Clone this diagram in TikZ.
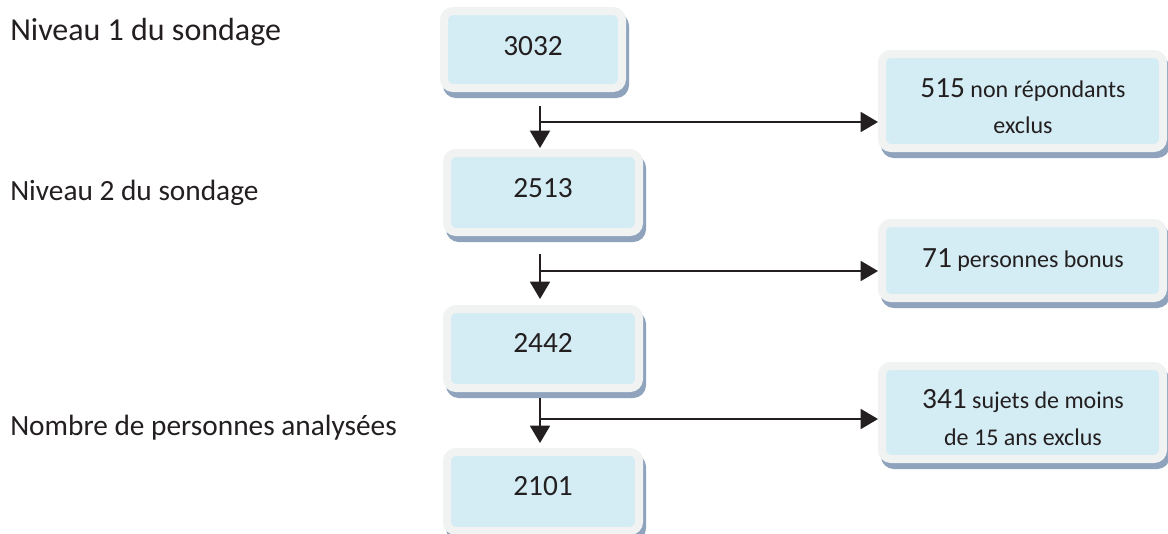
\documentclass[tikz,border=0pt]{standalone}
\usepackage{fontspec}
\setmainfont{Carlito}
\usetikzlibrary{arrows.meta,shadows,calc}
\definecolor{framegray}{HTML}{F1F3F3}
\definecolor{innerblue}{HTML}{D4ECF3}
\definecolor{shadowcol}{HTML}{8FA3BC}
\definecolor{ink}{HTML}{231F20}
\tikzset{
  box/.style={draw=framegray, fill=innerblue, line width=6pt, rounded corners=6.75pt,
    inner sep=0pt, outer sep=3pt,
    general shadow={fill=shadowcol, draw=shadowcol, line width=6pt, shadow xshift=2.25pt, shadow yshift=-4.5pt}},
  lbox/.style={box, minimum width=144pt, minimum height=59.25pt},
  rbox/.style={box, minimum width=210.75pt},
  txt/.style={inner sep=0pt, anchor=base, text=ink, font=\fontsize{22}{26}\selectfont},
  small/.style={inner sep=0pt, anchor=base, text=ink, font=\fontsize{18}{22}\selectfont},
  side/.style={inner sep=0pt, anchor=base west, text=ink, font=\fontsize{22}{26}\selectfont},
  arr/.style={draw=ink, line width=1.3pt, -{Triangle[length=13pt,width=15pt]}},
}
\newcommand{\bignum}[1]{{\fontsize{22}{26}\selectfont #1}}
\begin{document}
\begin{tikzpicture}[x=0.75pt,y=-0.75pt]
\useasboundingbox (0,0) rectangle (1168,533);
\clip (0,0) rectangle (1168,533);
\fill[white] (0,0) rectangle (1168,533);

% side labels
\node[side, font=\fontsize{24}{28}\selectfont] (l1) at (10,40) {Niveau 1 du sondage};
\node[side] (l2) at (10,200) {Niveau 2 du sondage};
\node[side] (l3) at (10,435) {Nombre de personnes analysées};

% main column boxes
\node[box, minimum width=133.5pt, minimum height=57.75pt] (b3032) at (533,49.5) {};
\node[lbox] (b2513) at (543,192.5) {};
\node[lbox] (b2442) at (543,348.5) {};
\node[lbox] (b2101) at (543,491.5) {};

% side boxes
\node[rbox, minimum height=70.5pt] (b515) at (1022.5,101) {};
\node[rbox, minimum height=56.25pt] (b71) at (1022.5,260.5) {};
\node[rbox, minimum height=69.75pt] (b341) at (1022.5,412.5) {};

% texts
\node[txt] (t3032) at (533,55) {3032};
\node[txt] (t2513) at (543,197) {2513};
\node[txt] (t2442) at (543,352) {2442};
\node[txt] (t2101) at (543,495) {2101};
\node[small] (t515a) at (1023,97) {\bignum{515} non répondants};
\node[small] (t515b) at (1023,133) {exclus};
\node[small] (t71) at (1023,267) {\bignum{71} personnes bonus};
\node[small] (t341a) at (1023,408) {\bignum{341} sujets de moins};
\node[small] (t341b) at (1023,445) {de 15 ans exclus};

% connectors
\coordinate (s1) at (540,106);
\coordinate (j1) at (540,122);
\coordinate (s2) at (540,254);
\coordinate (j2) at (540,271);
\coordinate (s3) at (540,398);
\coordinate (j3) at (540,419);

\draw[arr, shorten >=0.75pt] (s1) -- (s1 |- b2513.north);
\draw[arr] (j1) -- (j1 -| b515.west);
\draw[arr, shorten >=4.5pt] (s2) -- (s2 |- b2442.north);
\draw[arr] (j2) -- (j2 -| b71.west);
\draw[arr, shorten >=3.75pt] (s3) -- (s3 |- b2101.north);
\draw[arr] (j3) -- (j3 -| b341.west);
\end{tikzpicture}
\end{document}
